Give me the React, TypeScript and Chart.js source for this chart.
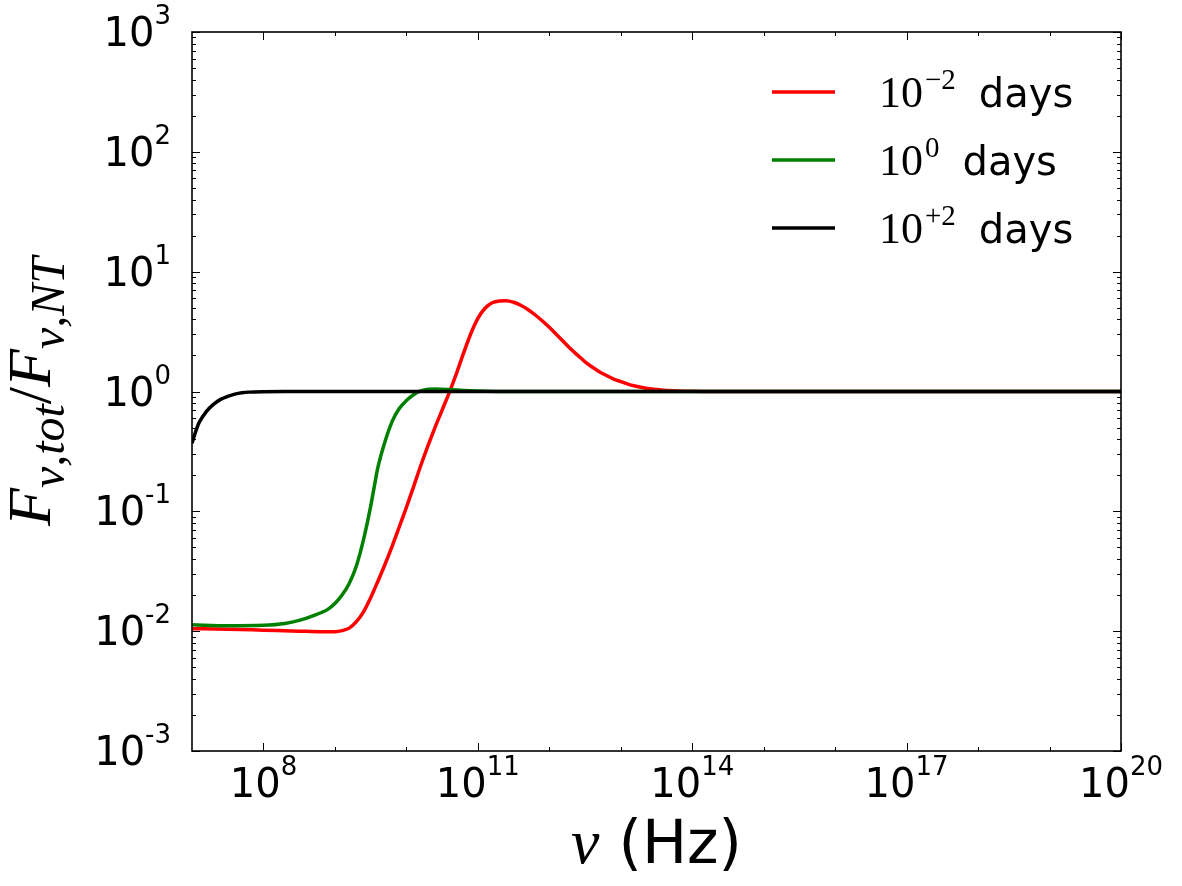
import React, { useEffect, useRef } from "react";
import { Chart, registerables } from "chart.js";

Chart.register(...registerables);

// ---------- data ----------
const seriesLabels = ["10⁻² days", "10⁰ days", "10⁺² days"];
const legendExponents = ["−2", "0", "+2"];
const legendUnit = "days";
const seriesColors = ["#ff0000", "#008000", "#000000"];

// log10(nu / Hz) and F_tot / F_NT for t = 1e-2 days
const redLogNu = [7.0, 7.5, 8.0, 8.5, 8.8, 9.0, 9.1, 9.2, 9.3, 9.4, 9.5, 9.6, 9.7, 9.8, 9.9, 10.0, 10.1, 10.2, 10.3, 10.4, 10.5, 10.6, 10.7, 10.8, 10.9, 11.0, 11.1, 11.2, 11.3, 11.4, 11.5, 11.6, 11.7, 11.8, 11.9, 12.0, 12.1, 12.2, 12.3, 12.4, 12.5, 12.6, 12.7, 12.8, 12.9, 13.0, 13.1, 13.2, 13.3, 13.4, 13.5, 13.6, 13.8, 14.0, 14.3, 17.0, 20.0];
const redRatio = [0.0105, 0.0104, 0.0102, 0.01, 0.0099, 0.0099, 0.0101, 0.0106, 0.012, 0.0145, 0.019, 0.026, 0.036, 0.051, 0.074, 0.108, 0.16, 0.24, 0.35, 0.5, 0.7, 0.98, 1.41, 2.09, 3.02, 4.07, 4.95, 5.5, 5.7, 5.73, 5.56, 5.25, 4.84, 4.37, 3.89, 3.43, 2.99, 2.6, 2.26, 2.0, 1.77, 1.6, 1.46, 1.36, 1.27, 1.21, 1.153, 1.112, 1.081, 1.057, 1.04, 1.026, 1.012, 1.005, 1.0, 1.0, 1.0];

// t = 1e0 days
const greenLogNu = [7.0, 7.5, 8.0, 8.3, 8.5, 8.7, 8.9, 9.0, 9.1, 9.2, 9.3, 9.4, 9.5, 9.55, 9.6, 9.7, 9.8, 9.9, 10.0, 10.1, 10.2, 10.3, 10.4, 10.6, 10.8, 11.0, 11.5, 15.0, 20.0];
const greenRatio = [0.0113, 0.0111, 0.0112, 0.0116, 0.0123, 0.0135, 0.0152, 0.017, 0.02, 0.025, 0.035, 0.058, 0.11, 0.16, 0.23, 0.38, 0.56, 0.72, 0.84, 0.94, 1.01, 1.045, 1.05, 1.04, 1.02, 1.01, 1.0, 1.0, 1.0];

// t = 1e+2 days
const blackLogNu = [7.0, 7.05, 7.1, 7.2, 7.3, 7.4, 7.5, 7.6, 7.7, 7.8, 8.0, 8.3, 10.0, 15.0, 20.0];
const blackRatio = [0.37, 0.46, 0.55, 0.68, 0.78, 0.86, 0.91, 0.95, 0.975, 0.988, 0.997, 1.0, 1.0, 1.0, 1.0];

const xMinExp = 7;
const xMaxExp = 20;
const yMinExp = -3;
const yMaxExp = 3;
const xTickExponents = ["8", "11", "14", "17", "20"];
const xMinorExponents = [9, 10, 12, 13, 15, 16, 18, 19];
const yTickExponents = ["-3", "-2", "-1", "0", "1", "2", "3"];
const xAxisSymbol = "ν";
const xAxisUnit = " (Hz)";

// ---------- helpers ----------
type Run = { text: string; font: string; dy: number };

function drawRuns(ctx: CanvasRenderingContext2D, runs: Run[], x: number, y: number, align: "left" | "center" | "right") {
  const widths = runs.map((r) => {
    ctx.font = r.font;
    return ctx.measureText(r.text).width;
  });
  const total = widths.reduce((a, b) => a + b, 0);
  let cx = align === "left" ? x : align === "center" ? x - total / 2 : x - total;
  ctx.textAlign = "left";
  ctx.textBaseline = "alphabetic";
  runs.forEach((r, i) => {
    ctx.font = r.font;
    ctx.fillText(r.text, cx, y + r.dy);
    cx += widths[i];
  });
  return cx;
}

const SANS = "'DejaVu Sans', sans-serif";
const SERIF = "'Liberation Serif', 'DejaVu Serif', serif";

const framePlugin = {
  id: "framePlugin",
  afterDraw(chart: any) {
    const ctx: CanvasRenderingContext2D = chart.ctx;
    const { left, right, top, bottom } = chart.chartArea;
    const xs = chart.scales.x;
    const ys = chart.scales.y;
    ctx.save();
    ctx.strokeStyle = "#000";
    ctx.fillStyle = "#000";
    ctx.lineWidth = 1.6;
    ctx.strokeRect(left, top, right - left, bottom - top);

    ctx.lineWidth = 1;
    const majorLen = 8;
    const minorLen = 4;
    const vTick = (px: number, len: number) => {
      ctx.beginPath();
      ctx.moveTo(px, bottom);
      ctx.lineTo(px, bottom - len);
      ctx.moveTo(px, top);
      ctx.lineTo(px, top + len);
      ctx.stroke();
    };
    const hTick = (py: number, len: number) => {
      ctx.beginPath();
      ctx.moveTo(left, py);
      ctx.lineTo(left + len, py);
      ctx.moveTo(right, py);
      ctx.lineTo(right - len, py);
      ctx.stroke();
    };
    xTickExponents.forEach((e) => vTick(Math.round(xs.getPixelForValue(Math.pow(10, Number(e)))) + 0.5, majorLen));
    xMinorExponents.forEach((e) => vTick(Math.round(xs.getPixelForValue(Math.pow(10, e))) + 0.5, minorLen));
    for (let d = yMinExp; d <= yMaxExp; d++) {
      hTick(Math.round(ys.getPixelForValue(Math.pow(10, d))) + 0.5, majorLen);
      if (d < yMaxExp) {
        for (let m = 2; m <= 9; m++) {
          hTick(Math.round(ys.getPixelForValue(m * Math.pow(10, d))) + 0.5, minorLen);
        }
      }
    }

    // tick labels
    const baseFont = `40px ${SANS}`;
    const supFont = `26px ${SANS}`;
    xTickExponents.forEach((e) => {
      const px = xs.getPixelForValue(Math.pow(10, Number(e)));
      drawRuns(ctx, [
        { text: "10", font: baseFont, dy: 0 },
        { text: e, font: supFont, dy: -22 },
      ], px, bottom + 46, "center");
    });
    yTickExponents.forEach((e) => {
      const py = ys.getPixelForValue(Math.pow(10, Number(e)));
      drawRuns(ctx, [
        { text: "10", font: baseFont, dy: 0 },
        { text: e, font: supFont, dy: -22 },
      ], left - 21, py + 14, "right");
    });

    // x axis title
    drawRuns(ctx, [
      { text: xAxisSymbol, font: `italic 64px ${SERIF}`, dy: 0 },
      { text: xAxisUnit, font: `60px ${SANS}`, dy: 0 },
    ], (left + right) / 2, 863, "center");

    // y axis title (rotated)
    ctx.save();
    ctx.translate(0, (top + bottom) / 2);
    ctx.rotate(-Math.PI / 2);
    const mainF = `italic 62px ${SERIF}`;
    const subF = `italic 48px ${SERIF}`;
    drawRuns(ctx, [
      { text: "F", font: mainF, dy: 0 },
      { text: "ν,tot", font: subF, dy: 14 },
      { text: "/", font: `62px ${SERIF}`, dy: 0 },
      { text: "F", font: mainF, dy: 0 },
      { text: "ν,NT", font: subF, dy: 14 },
    ], 0, 50, "center");
    ctx.restore();

    // legend
    const legX0 = 772;
    const legX1 = 835;
    const legTextX = 879;
    const rowBase = 107;
    const rowGap = 68;
    chart.data.datasets.forEach((ds: any) => {
      const idx = ds.seriesIndex;
      const yb = rowBase + idx * rowGap;
      ctx.strokeStyle = ds.borderColor;
      ctx.lineWidth = 3.5;
      ctx.beginPath();
      ctx.moveTo(legX0, yb - 15);
      ctx.lineTo(legX1, yb - 15);
      ctx.stroke();
      ctx.fillStyle = "#000";
      const end = drawRuns(ctx, [
        { text: "10", font: `44px ${SERIF}`, dy: 0 },
        { text: " ", font: `8px ${SERIF}`, dy: 0 },
        { text: legendExponents[idx], font: `29px ${SERIF}`, dy: -18 },
      ], legTextX, yb, "left");
      drawRuns(ctx, [{ text: legendUnit, font: `40px ${SANS}`, dy: 0 }], end + 23, yb, "left");
    });
    ctx.restore();
  },
};

function toPoints(logNu: number[], vals: number[]) {
  return logNu.map((l, i) => ({ x: Math.pow(10, l), y: vals[i] }));
}

export default function App() {
  const ref = useRef<HTMLCanvasElement | null>(null);
  useEffect(() => {
    if (!ref.current) return;
    const all = [
      toPoints(redLogNu, redRatio),
      toPoints(greenLogNu, greenRatio),
      toPoints(blackLogNu, blackRatio),
    ];
    const chart = new Chart(ref.current, {
      type: "line",
      data: {
        datasets: all.map((pts, i) => ({
          label: seriesLabels[i],
          data: pts,
          borderColor: seriesColors[i],
          backgroundColor: seriesColors[i],
          borderWidth: 3.5,
          pointRadius: 0,
          fill: false,
          cubicInterpolationMode: "monotone",
          order: 2 - i,
          seriesIndex: i,
        })) as any,
      },
      options: {
        animation: false,
        responsive: true,
        maintainAspectRatio: false,
        layout: { padding: { top: 32, right: 61, left: 0, bottom: 0 } },
        plugins: { legend: { display: false }, tooltip: { enabled: false } },
        scales: {
          x: {
            type: "logarithmic",
            min: Math.pow(10, xMinExp),
            max: Math.pow(10, xMaxExp),
            ticks: { display: false },
            grid: { display: false },
            border: { display: false },
            afterFit: (s: any) => { s.height = 135; },
          },
          y: {
            type: "logarithmic",
            min: Math.pow(10, yMinExp),
            max: Math.pow(10, yMaxExp),
            ticks: { display: false },
            grid: { display: false },
            border: { display: false },
            afterFit: (s: any) => { s.width = 192; },
          },
        },
      },
      plugins: [framePlugin],
    });
    return () => chart.destroy();
  }, []);
  return (
    <div style={{ position: "absolute", left: 0, top: 0, width: 1182, height: 886, background: "#fff" }}>
      <canvas ref={ref} />
    </div>
  );
}
